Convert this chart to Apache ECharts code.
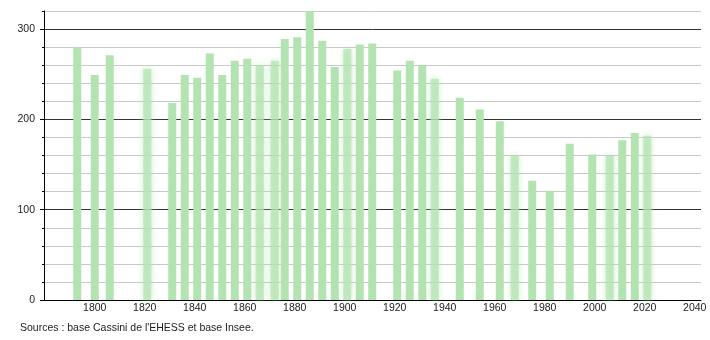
<!DOCTYPE html>
<html>
<head>
<meta charset="utf-8">
<script src="https://cdn.jsdelivr.net/npm/echarts@6/dist/echarts.min.js"></script>
<style>
html,body{margin:0;padding:0;background:#fff;}
#chart{width:710px;height:340px;}
</style>
</head>
<body>
<div id="chart"></div>
<script>
var years = [1793,1800,1806,1821,1831,1836,1841,1846,1851,1856,1861,1866,1872,1876,1881,1886,1891,1896,1901,1906,1911,1921,1926,1931,1936,1946,1954,1962,1968,1975,1982,1990,1999,2006,2011,2016,2021];
var population = [280,249,271,256,218,249,246,273,249,265,267,260,265,289,291,321,287,258,278,283,284,254,265,260,245,224,211,198,160,132,121,173,161,160,177,185,182];
var softYears = [1821,1866,1872,1901,1936,1968,2006,2021];
var xTickLabels = [1800,1820,1840,1860,1880,1900,1920,1940,1960,1980,2000,2020,2040];
var yTickLabels = [0,100,200,300];
var sourceText = "Sources : base Cassini de l'EHESS et base Insee.";

var green = '#b2e3b0';
var data = years.map(function(y, i){
  var item = {value: [y, population[i]]};
  if (softYears.indexOf(y) >= 0) {
    item.itemStyle = {color: 'rgba(178,227,176,0.7)', shadowBlur: 6, shadowColor: 'rgba(178,227,176,0.9)'};
  }
  return item;
});

var font = '"Liberation Sans", Arial, sans-serif';
var chart = echarts.init(document.getElementById('chart'), null, {renderer: 'canvas'});
chart.setOption({
  animation: false,
  backgroundColor: '#fff',
  grid: {left: 44, right: 9, top: 11, bottom: 40},
  xAxis: {
    type: 'value', min: 1779.7, max: 2042.5,
    axisLine: {show: true, lineStyle: {color: '#000', width: 1}},
    axisTick: {show: false},
    splitLine: {show: false},
    axisLabel: {customValues: xTickLabels, color: '#222', fontSize: 10.5, fontFamily: font, margin: 3,
      formatter: function(v){ return String(Math.round(v)); }}
  },
  yAxis: [{
    type: 'value', min: 0, max: 320, interval: 20,
    axisLine: {show: true, lineStyle: {color: '#000'}},
    axisTick: {show: true, length: 2, lineStyle: {color: '#000'}},
    axisLabel: {show: false},
    splitLine: {show: true, lineStyle: {color: ['#333','#c8c8c8','#c8c8c8','#c8c8c8','#c8c8c8'], width: 1}}
  }, {
    type: 'value', min: 0, max: 320, position: 'left',
    axisLine: {show: false},
    axisTick: {show: true, length: 4, customValues: yTickLabels, lineStyle: {color: '#000'}},
    axisLabel: {customValues: yTickLabels, color: '#222', fontSize: 10.5, fontFamily: font, margin: 9,
      formatter: function(v){ return String(Math.round(v)); }},
    splitLine: {show: false}
  }],
  series: [{
    type: 'bar',
    yAxisIndex: 0,
    barWidth: 8,
    itemStyle: {color: green},
    data: data
  }],
  graphic: [{
    type: 'text', left: 20, top: 323,
    style: {text: sourceText, fill: '#222', font: '10.5px ' + font}
  }]
});
</script>
</body>
</html>
